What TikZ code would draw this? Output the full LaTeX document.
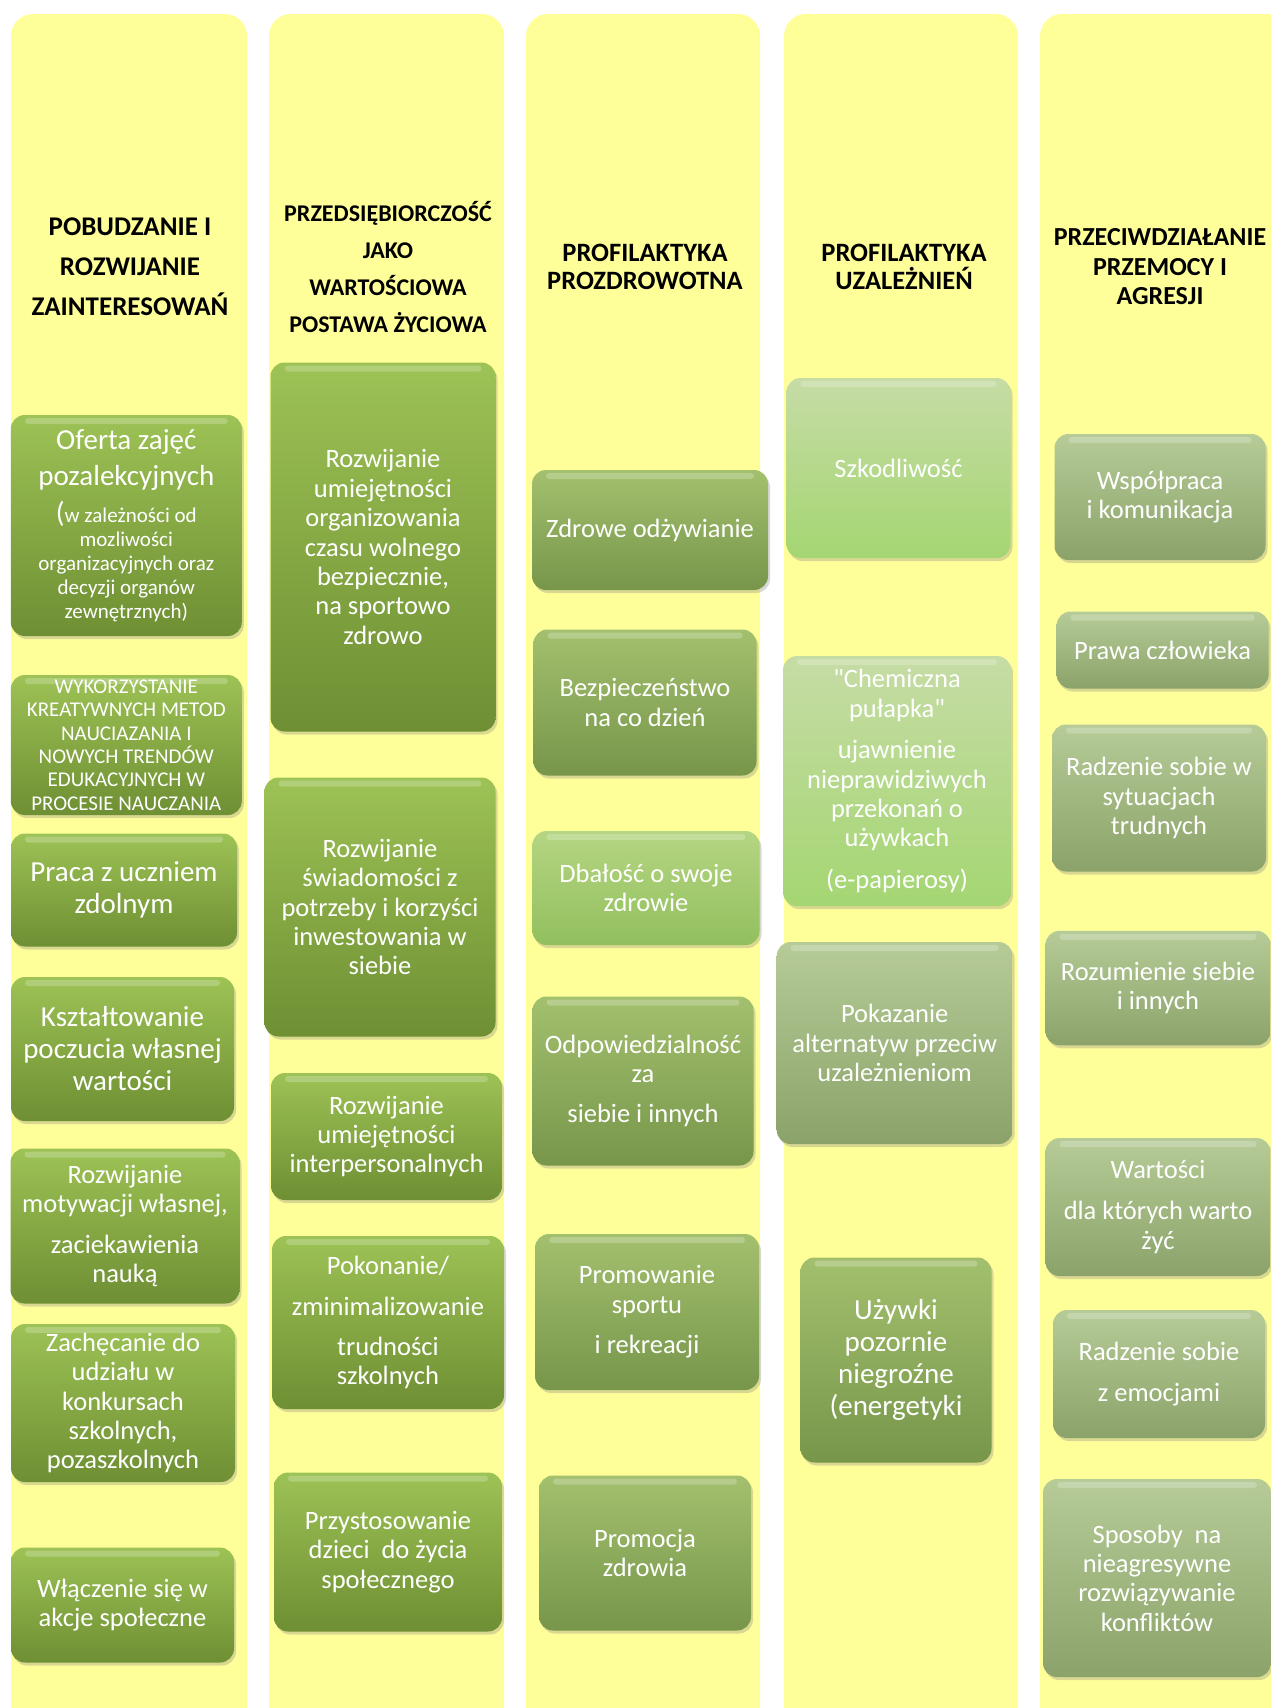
\documentclass[tikz,border=0pt]{standalone}
\usepackage{fontspec}
\setmainfont{Carlito}
\usetikzlibrary{shadows}

\definecolor{kolumna}{HTML}{FFFF99}
\definecolor{zywaTop}{HTML}{9DC255}
\definecolor{zywaBot}{HTML}{6E8F33}
\definecolor{oliwaTop}{HTML}{A3C06E}
\definecolor{oliwaBot}{HTML}{77964A}
\definecolor{jasnaTop}{HTML}{B5D582}
\definecolor{jasnaBot}{HTML}{92C05E}
\definecolor{bladaTop}{HTML}{C6DCA5}
\definecolor{bladaBot}{HTML}{A4D672}
\definecolor{szalwiaTop}{HTML}{B6CB97}
\definecolor{szalwiaBot}{HTML}{8BA36A}

\begin{document}
\begin{tikzpicture}[x=1pt, y=-1pt,
        column/.style={
                fill=kolumna,
                rounded corners=22pt
            },
        header/.style={
                align=center,
                text=black,
                inner sep=0pt
            },
        tile/.style={
                rounded corners=14pt,
                align=center,
                text=white,
                inner sep=0pt,
                font=\fontsize{26.5}{29.4}\selectfont,
                drop shadow={opacity=0.3, shadow xshift=2pt, shadow yshift=-3pt},
                path picture={
                        \fill[white, opacity=0.22, rounded corners=3pt]
                            ([xshift=14pt, yshift=-3pt]path picture bounding box.north west) rectangle
                            ([xshift=-14pt, yshift=-9pt]path picture bounding box.north east);
                    }
            },
        zywa/.style={tile, top color=zywaTop, bottom color=zywaBot},
        oliwa/.style={tile, top color=oliwaTop, bottom color=oliwaBot},
        jasna/.style={tile, top color=jasnaTop, bottom color=jasnaBot},
        blada/.style={tile, top color=bladaTop, bottom color=bladaBot},
        szalwia/.style={tile, top color=szalwiaTop, bottom color=szalwiaBot}]
        \useasboundingbox (0,0) rectangle (1271,1708);
        \fill[white] (0,0) rectangle (1271,1708);

        % kolumny
        \fill[column] (11,14) rectangle (247,1740);
        \fill[column] (269,14) rectangle (504,1740);
        \fill[column] (526,14) rectangle (760,1740);
        \fill[column] (784,14) rectangle (1018,1740);
        \fill[column] (1040,14) rectangle (1300,1740);

        % naglowki
        \node [header, font=\fontsize{27}{28}\selectfont\bfseries] (zainteresowania) at (130,267)
            {POBUDZANIE I\\[12pt]ROZWIJANIE\\[12pt]ZAINTERESOWAŃ};
        \node [header, font=\fontsize{24}{28}\selectfont\bfseries] (przedsiebiorczosc) at (388,267)
            {PRZEDSIĘBIORCZOŚĆ\\[8.7pt]JAKO\\[8.7pt]WARTOŚCIOWA\\[8.7pt]POSTAWA ŻYCIOWA};
        \node [header, font=\fontsize{26.5}{28}\selectfont\bfseries] (prozdrowotna) at (645,267)
            {PROFILAKTYKA\\PROZDROWOTNA};
        \node [header, font=\fontsize{26.5}{28}\selectfont\bfseries] (uzaleznienia) at (904,267)
            {PROFILAKTYKA\\UZALEŻNIEŃ};
        \node [header, font=\fontsize{26}{29.5}\selectfont\bfseries] (przemoc) at (1160,267)
            {PRZECIWDZIAŁANIE\\PRZEMOCY I\\AGRESJI};

        % kolumna 1
        \node [zywa, minimum width=231pt, minimum height=221pt, font=\fontsize{21}{24}\selectfont] (oferta) at (126.3,525.5)
            {\fontsize{29}{33}\selectfont Oferta zajęć\\[10pt]\fontsize{29}{33}\selectfont pozalekcyjnych\\[9.8pt]{\fontsize{29}{33}\selectfont(}w zależności od\\mozliwości\\organizacyjnych oraz\\decyzji organów\\zewnętrznych)};
        \node [zywa, minimum width=231pt, minimum height=140pt, font=\fontsize{21}{23.4}\selectfont] (metody) at (126.3,745)
            {WYKORZYSTANIE\\KREATYWNYCH METOD\\NAUCIAZANIA I\\NOWYCH TRENDÓW\\EDUKACYJNYCH W\\PROCESIE NAUCZANIA};
        \node [zywa, minimum width=226pt, minimum height=113pt, font=\fontsize{29}{31.6}\selectfont] (zdolni) at (124,890)
            {Praca z uczniem\\zdolnym};
        \node [zywa, minimum width=223pt, minimum height=144pt, font=\fontsize{29}{32}\selectfont] (poczucie) at (122.5,1049)
            {Kształtowanie\\poczucia własnej\\wartości};
        \node [zywa, minimum width=229pt, minimum height=155pt] (motywacja) at (125,1226)
            {Rozwijanie\\motywacji własnej,\\[11pt]zaciekawienia\\nauką};
        \node [zywa, minimum width=224pt, minimum height=158pt] (konkursy) at (123,1403)
            {Zachęcanie do\\udziału w\\konkursach\\szkolnych,\\pozaszkolnych};
        \node [zywa, minimum width=223pt, minimum height=115pt] (akcje) at (122.5,1605)
            {Włączenie się w\\akcje społeczne};

        % kolumna 2
        \node [zywa, minimum width=225pt, minimum height=369pt] (czaswolny) at (383,547)
            {Rozwijanie\\umiejętności\\organizowania\\czasu wolnego\\bezpiecznie,\\na sportowo\\zdrowo};
        \node [zywa, minimum width=231pt, minimum height=259pt] (swiadomosc) at (380,907)
            {Rozwijanie\\świadomości z\\potrzeby i korzyści\\inwestowania w\\siebie};
        \node [zywa, minimum width=231pt, minimum height=127pt] (interpersonalne) at (386.5,1136.5)
            {Rozwijanie\\umiejętności\\interpersonalnych};
        \node [zywa, minimum width=232pt, minimum height=173pt] (trudnosci) at (388,1322.5)
            {Pokonanie/\\[12pt]zminimalizowanie\\[10pt]trudności\\szkolnych};
        \node [zywa, minimum width=228pt, minimum height=159pt] (przystosowanie) at (388,1552)
            {Przystosowanie\\dzieci\ \ do życia\\społecznego};

        % kolumna 3
        \node [oliwa, minimum width=236pt, minimum height=120pt] (odzywianie) at (650,530)
            {Zdrowe odżywianie};
        \node [oliwa, minimum width=223pt, minimum height=146pt] (bezpieczenstwo) at (645,702.5)
            {Bezpieczeństwo\\na co dzień};
        \node [jasna, minimum width=227pt, minimum height=114pt] (dbalosc) at (646,888)
            {Dbałość o swoje\\zdrowie};
        \node [oliwa, minimum width=221pt, minimum height=169pt] (odpowiedzialnosc) at (643,1081)
            {Odpowiedzialność\\za\\[11pt]siebie i innych};
        \node [oliwa, minimum width=224pt, minimum height=156pt] (sport) at (647,1312)
            {Promowanie\\sportu\\[11pt]i rekreacji};
        \node [oliwa, minimum width=212pt, minimum height=155pt] (promocja) at (645,1553)
            {Promocja\\zdrowia};

        % kolumna 4
        \node [blada, minimum width=224pt, minimum height=180pt] (szkodliwosc) at (898.5,468)
            {Szkodliwość};
        \node [blada, minimum width=228pt, minimum height=250pt] (pulapka) at (897,781)
            {\textquotedbl Chemiczna\\pułapka\textquotedbl\\[12pt]ujawnienie\\nieprawidziwych\\przekonań o\\używkach\\[12pt](e-papierosy)};
        \node [szalwia, minimum width=236pt, minimum height=202pt] (alternatywy) at (894.7,1043)
            {Pokazanie\\alternatyw przeciw\\uzależnieniom};
        \node [oliwa, minimum width=191pt, minimum height=205pt, font=\fontsize{29}{32}\selectfont] (uzywki) at (896,1360)
            {Używki\\pozornie\\niegroźne\\(energetyki};

        % kolumna 5
        \node [szalwia, minimum width=211pt, minimum height=126pt] (wspolpraca) at (1160,497)
            {Współpraca\\i komunikacja};
        \node [szalwia, minimum width=212pt, minimum height=77pt] (prawa) at (1162.6,650)
            {Prawa człowieka};
        \node [szalwia, minimum width=214pt, minimum height=147pt] (sytuacje) at (1159,798)
            {Radzenie sobie w\\sytuacjach\\trudnych};
        \node [szalwia, minimum width=225pt, minimum height=114.5pt] (rozumienie) at (1158,988)
            {Rozumienie siebie\\i innych};
        \node [szalwia, minimum width=225pt, minimum height=138pt] (wartosci) at (1158,1207)
            {Wartości\\[12pt]dla których warto\\żyć};
        \node [szalwia, minimum width=212pt, minimum height=128pt] (emocje) at (1159,1374)
            {Radzenie sobie\\[11pt]z emocjami};
        \node [szalwia, minimum width=228pt, minimum height=198pt] (konflikty) at (1157,1578)
            {Sposoby\ \ na\\nieagresywne\\rozwiązywanie\\konfliktów};
    \end{tikzpicture}
\end{document}
